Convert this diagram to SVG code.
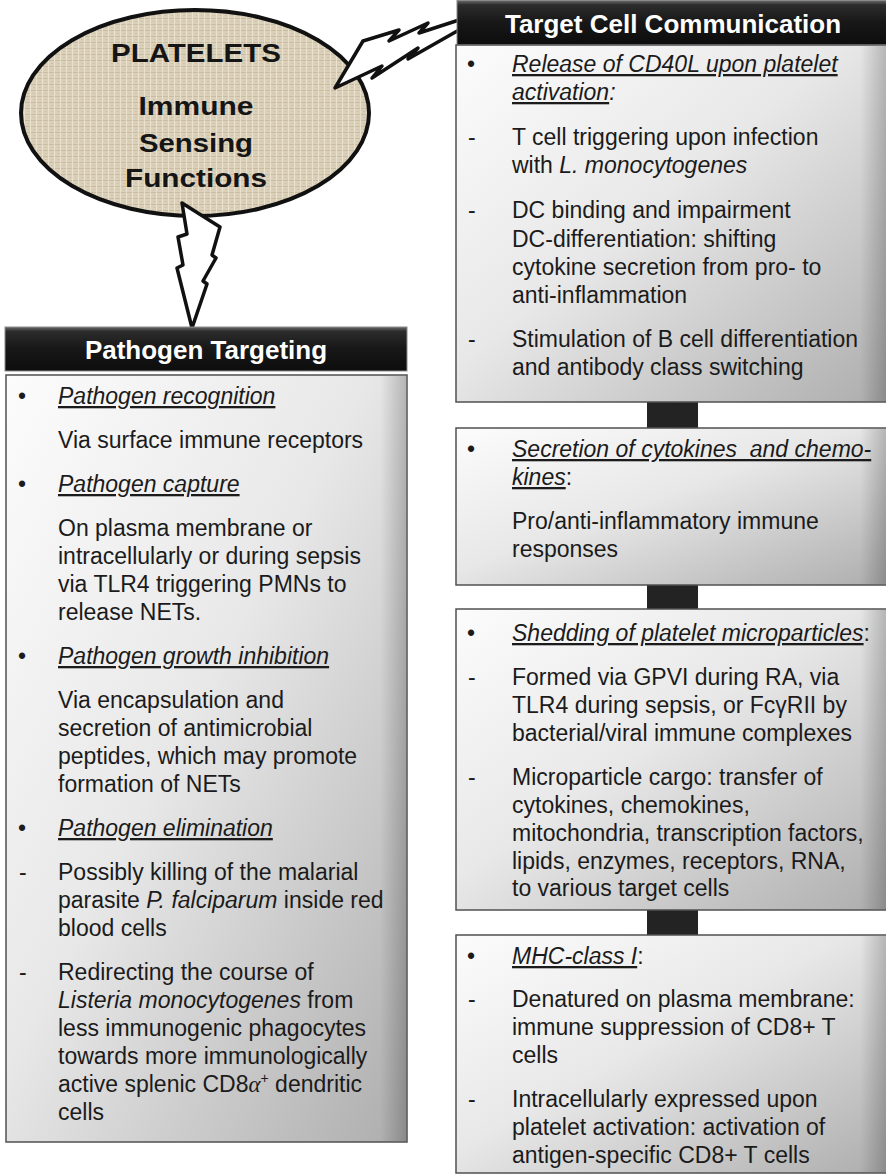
<svg xmlns="http://www.w3.org/2000/svg" width="886" height="1174" viewBox="0 0 886 1174">
<defs>
<style>
.t{font-family:"Liberation Sans",Arial,sans-serif;font-size:23px;fill:#1b1b1b}
.i{font-style:italic}
.u{font-style:italic;text-decoration:underline}
.h{font-family:"Liberation Sans",Arial,sans-serif;font-size:26px;font-weight:bold;fill:#ffffff;text-anchor:middle}
.e{font-family:"Liberation Sans",Arial,sans-serif;font-size:26px;font-weight:bold;fill:#151515;text-anchor:middle}
.box{fill:url(#bodyGrad);stroke:#505050;stroke-width:1.5}
.hdr{fill:url(#hdrGrad);stroke:#8a8a8a;stroke-width:1}
.bar{fill:#232323}
.bolt{fill:#ffffff;stroke:#111111;stroke-width:3.5;stroke-linejoin:round}
</style>
<linearGradient id="bodyGrad" x1="0" y1="0" x2="1" y2="1">
<stop offset="0" stop-color="#fcfcfc"/>
<stop offset="0.45" stop-color="#e8e8e8"/>
<stop offset="1" stop-color="#adadad"/>
</linearGradient>
<linearGradient id="hdrGrad" x1="0" y1="0" x2="0" y2="1">
<stop offset="0" stop-color="#6a6a6a"/>
<stop offset="0.1" stop-color="#2c2c2c"/>
<stop offset="0.5" stop-color="#171717"/>
<stop offset="1" stop-color="#0d0d0d"/>
</linearGradient>
<linearGradient id="edgeR" x1="0" y1="0" x2="1" y2="0">
<stop offset="0" stop-color="#000" stop-opacity="0"/>
<stop offset="1" stop-color="#000" stop-opacity="0.2"/>
</linearGradient>
<pattern id="burlap" width="6" height="6" patternUnits="userSpaceOnUse">
<rect width="6" height="6" fill="#dbd0b9"/>
<path d="M0 0.5H6" stroke="#c9bc9f" stroke-width="1"/>
<path d="M0.5 0V6" stroke="#e9e1ce" stroke-width="1"/>
<path d="M3 3.5H5" stroke="#cec2a7" stroke-width="1"/>
</pattern>
</defs>

<g id="platelets">
<ellipse cx="195" cy="113" rx="174" ry="103" fill="url(#burlap)" stroke="#111" stroke-width="4"/>
<text class="e" x="196" y="62" textLength="170" lengthAdjust="spacingAndGlyphs">PLATELETS</text>
<text class="e" x="196" y="115" textLength="115" lengthAdjust="spacingAndGlyphs">Immune</text>
<text class="e" x="196" y="152" textLength="114" lengthAdjust="spacingAndGlyphs">Sensing</text>
<text class="e" x="196" y="187" textLength="142" lengthAdjust="spacingAndGlyphs">Functions</text>
</g>

<g id="connectors">
<polygon class="bolt" points="335,88 363,41 399,30 389,41 428,23 419,33 459,20 459,30 408,59 418,48 372,78 382,66"/>
<polygon class="bolt" points="182,203 220,227 212,255 216,258 203,281 207,284 192,328 177,268 183,265 178,237 187,234"/>
<rect class="bar" x="647" y="402" width="51" height="26"/>
<rect class="bar" x="647" y="585" width="51" height="24"/>
<rect class="bar" x="647" y="910" width="51" height="25"/>
</g>

<g id="pathogen-targeting">
<rect class="hdr" x="5" y="327" width="402" height="44"/>
<text class="h" x="206" y="359">Pathogen Targeting</text>
<rect class="box" x="6" y="375" width="401" height="767"/>
<rect x="380" y="376" width="26" height="765" fill="url(#edgeR)"/>
<text class="t" x="18" y="404">•</text>
<text class="t" x="58" y="404"><tspan class="u">Pathogen recognition</tspan></text>
<text class="t" x="58" y="448">Via surface immune receptors</text>
<text class="t" x="18" y="492">•</text>
<text class="t" x="58" y="492"><tspan class="u">Pathogen capture</tspan></text>
<text class="t" x="58" y="536">On plasma membrane or</text>
<text class="t" x="58" y="564">intracellularly or during sepsis</text>
<text class="t" x="58" y="592">via TLR4 triggering PMNs to</text>
<text class="t" x="58" y="620">release NETs.</text>
<text class="t" x="18" y="664">•</text>
<text class="t" x="58" y="664"><tspan class="u">Pathogen growth inhibition</tspan></text>
<text class="t" x="58" y="708">Via encapsulation and</text>
<text class="t" x="58" y="736">secretion of antimicrobial</text>
<text class="t" x="58" y="764">peptides, which may promote</text>
<text class="t" x="58" y="792">formation of NETs</text>
<text class="t" x="18" y="836">•</text>
<text class="t" x="58" y="836"><tspan class="u">Pathogen elimination</tspan></text>
<text class="t" x="19" y="880">-</text>
<text class="t" x="58" y="880">Possibly killing of the malarial</text>
<text class="t" x="58" y="908">parasite <tspan class="i">P. falciparum</tspan> inside red</text>
<text class="t" x="58" y="936">blood cells</text>
<text class="t" x="19" y="980">-</text>
<text class="t" x="58" y="980">Redirecting the course of</text>
<text class="t" x="58" y="1008"><tspan class="i">Listeria monocytogenes</tspan> from</text>
<text class="t" x="58" y="1036">less immunogenic phagocytes</text>
<text class="t" x="58" y="1064">towards more immunologically</text>
<text class="t" x="58" y="1092">active splenic CD8<tspan font-family="'Liberation Serif',serif" font-style="italic">α</tspan><tspan font-size="14" dy="-9">+</tspan><tspan dy="9"> dendritic</tspan></text>
<text class="t" x="58" y="1120">cells</text>
</g>

<g id="target-cell-communication">
<rect class="hdr" x="457" y="0.5" width="432" height="44"/>
<text class="h" x="673" y="33">Target Cell Communication</text>
<rect class="box" x="456" y="45" width="432" height="357"/>
<rect x="860" y="46" width="26" height="355" fill="url(#edgeR)"/>
<text class="t" x="467" y="72">•</text>
<text class="t" x="512" y="72"><tspan class="u">Release of CD40L upon platelet</tspan></text>
<text class="t" x="512" y="100"><tspan class="u">activation</tspan><tspan class="i">:</tspan></text>
<text class="t" x="468" y="145">-</text>
<text class="t" x="512" y="145">T cell triggering upon infection</text>
<text class="t" x="512" y="173">with <tspan class="i">L. monocytogenes</tspan></text>
<text class="t" x="468" y="218">-</text>
<text class="t" x="512" y="218">DC binding and impairment</text>
<text class="t" x="512" y="247">DC-differentiation: shifting</text>
<text class="t" x="512" y="275">cytokine secretion from pro- to</text>
<text class="t" x="512" y="303">anti-inflammation</text>
<text class="t" x="468" y="347">-</text>
<text class="t" x="512" y="347">Stimulation of B cell differentiation</text>
<text class="t" x="512" y="375">and antibody class switching</text>
</g>

<g id="cytokines">
<rect class="box" x="456" y="428" width="432" height="157"/>
<rect x="860" y="429" width="26" height="155" fill="url(#edgeR)"/>
<text class="t" x="467" y="457">•</text>
<text class="t" x="512" y="457"><tspan class="u">Secretion of cytokines&#160; and chemo-</tspan></text>
<text class="t" x="512" y="485"><tspan class="u">kines</tspan>:</text>
<text class="t" x="512" y="529">Pro/anti-inflammatory immune</text>
<text class="t" x="512" y="557">responses</text>
</g>

<g id="microparticles">
<rect class="box" x="456" y="609" width="432" height="301"/>
<rect x="860" y="610" width="26" height="299" fill="url(#edgeR)"/>
<text class="t" x="467" y="641">•</text>
<text class="t" x="512" y="641"><tspan class="u">Shedding of platelet microparticles</tspan>:</text>
<text class="t" x="468" y="685">-</text>
<text class="t" x="512" y="685">Formed via GPVI during RA, via</text>
<text class="t" x="512" y="713">TLR4 during sepsis, or FcγRII by</text>
<text class="t" x="512" y="741">bacterial/viral immune complexes</text>
<text class="t" x="468" y="785">-</text>
<text class="t" x="512" y="785">Microparticle cargo: transfer of</text>
<text class="t" x="512" y="813">cytokines, chemokines,</text>
<text class="t" x="512" y="841">mitochondria, transcription factors,</text>
<text class="t" x="512" y="869">lipids, enzymes, receptors, RNA,</text>
<text class="t" x="512" y="896">to various target cells</text>
</g>

<g id="mhc">
<rect class="box" x="456" y="935" width="432" height="238"/>
<rect x="860" y="936" width="26" height="236" fill="url(#edgeR)"/>
<text class="t" x="467" y="964">•</text>
<text class="t" x="512" y="964"><tspan class="u">MHC-class I</tspan>:</text>
<text class="t" x="468" y="1007">-</text>
<text class="t" x="512" y="1007">Denatured on plasma membrane:</text>
<text class="t" x="512" y="1035">immune suppression of CD8+ T</text>
<text class="t" x="512" y="1063">cells</text>
<text class="t" x="468" y="1107">-</text>
<text class="t" x="512" y="1107">Intracellularly expressed upon</text>
<text class="t" x="512" y="1135">platelet activation: activation of</text>
<text class="t" x="512" y="1163">antigen-specific CD8+ T cells</text>
</g>
</svg>
